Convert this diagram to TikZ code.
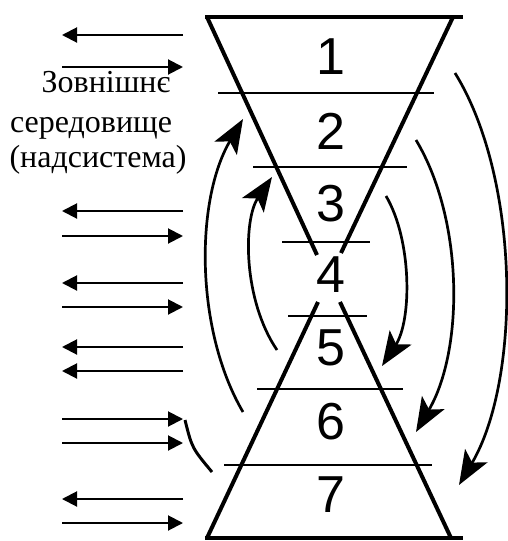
\documentclass[tikz,border=0pt]{standalone}
\usepackage{fontspec}
\setmainfont{Liberation Serif}
\newfontfamily\digitfont{Liberation Sans}
\usetikzlibrary{arrows.meta}

\begin{document}
\begin{tikzpicture}[x=1pt, y=-1pt,
		tri/.style={line width=4pt},
		layer/.style={line width=1.7pt},
		ioarrow/.style={line width=2pt, -{Triangle[length=15pt,width=15pt]}},
		cycarrow/.style={line width=2.7pt, -{Stealth[length=34pt,width=26pt,inset=8pt]}},
		digit/.style={font=\digitfont\fontsize{52}{52}\selectfont},
		envtext/.style={anchor=base, font=\fontsize{32}{32}\selectfont}]
	\useasboundingbox (0,0) rectangle (508,541);
	
	\draw[tri] (205,17) -- (463,17);
	\draw[tri] (207,17) -- (317,255);
	\draw[tri] (453,17) -- (341,253);
	\draw[tri] (318,302) -- (207,538);
	\draw[tri] (340,302) -- (451,538);
	\draw[tri] (205,538) -- (463,538);
	
	\draw[layer] (218,93) -- (434,93);
	\draw[layer] (253,167) -- (407,167);
	\draw[layer] (282,242) -- (370,242);
	\draw[layer] (288,316) -- (367,316);
	\draw[layer] (257,389) -- (403,389);
	\draw[layer] (224,465) -- (432,465);
	
	\node[digit] (n1) at (331,57) {1};
	\node[digit] (n2) at (331,131) {2};
	\node[digit] (n3) at (331,204) {3};
	\node[digit] (n4) at (331,275) {4};
	\node[digit] (n5) at (331,348) {5};
	\node[digit] (n6) at (331,422) {6};
	\node[digit] (n7) at (331,495) {7};
	
	\node[envtext] (env1) at (106,92) {Зовнішнє};
	\node[envtext] (env2) at (91,132) {середовище};
	\node[envtext] (env3) at (98,167) {(надсистема)};
	
	\foreach \y in {35,211,283,347,371,499}
		\draw[ioarrow] (183,\y) -- (62,\y);
	\foreach \y in {67,236,307,419,443,523}
		\draw[ioarrow] (62,\y) -- (183,\y);
	
	% up
	\coordinate (up1s) at (243,412);
	\coordinate (up1e) at (243,119);
	\coordinate (up2s) at (277,350);
	\coordinate (up2e) at (272,177);
	\draw[cycarrow] (up1s) .. controls (195,330) and (195,200) .. (up1e);
	\draw[cycarrow] (up2s) .. controls (243,300) and (243,220) .. (up2e);
	
	% down
	\coordinate (dn1s) at (386,196);
	\coordinate (dn1e) at (382,366);
	\coordinate (dn2s) at (416,140);
	\coordinate (dn2e) at (416,432);
	\coordinate (dn3s) at (455,73);
	\coordinate (dn3e) at (459,485);
	\draw[cycarrow] (dn1s) .. controls (412,240) and (412,320) .. (dn1e);
	\draw[cycarrow] (dn2s) .. controls (464,220) and (464,350) .. (dn2e);
	\draw[cycarrow] (dn3s) .. controls (521,180) and (521,380) .. (dn3e);
	
	\coordinate (arcs) at (185,420);
	\coordinate (arce) at (212,472);
	\draw[line width=3pt] (arcs) .. controls (192,448) .. (arce);
\end{tikzpicture}
\end{document}
